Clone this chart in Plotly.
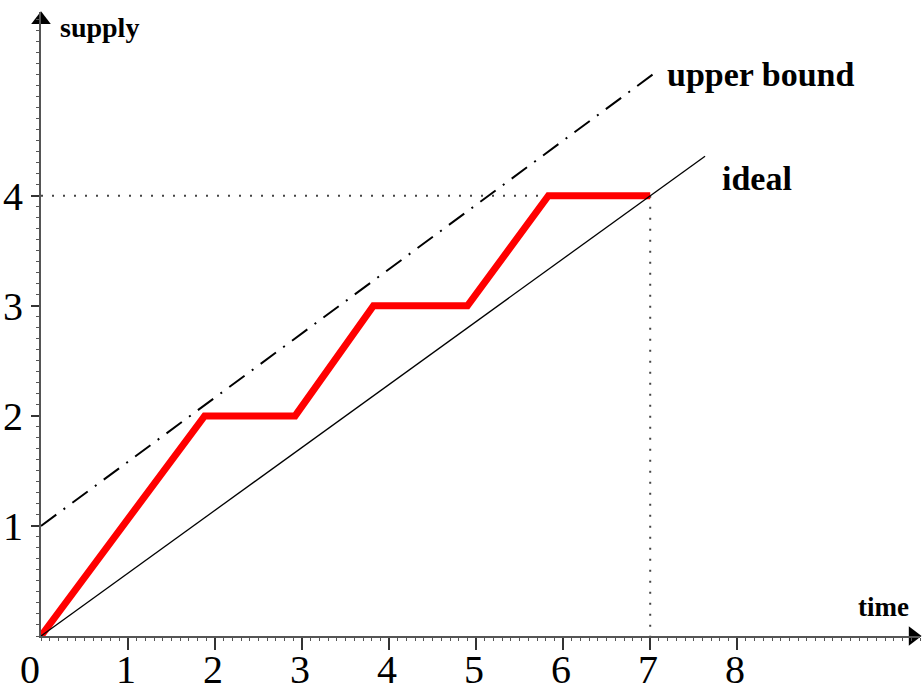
import plotly.graph_objects as go

# Supply schedule (staircase) against time
supply_t = [0, 1.88, 2.92, 3.82, 4.9, 5.83, 7.0]
supply_v = [0, 2, 2, 3, 3, 4, 4]

# Reference lines
ideal_t = [0, 7.63]
ideal_v = [0, 4.36]
upper_t = [0, 7.06]
upper_v = [1, 5.12]

# Guide lines at the final supply level / time
guide_h_t = [0, 7]
guide_h_v = [4, 4]
guide_v_t = [7, 7]
guide_v_v = [4, 0]

x_ticks = [1, 2, 3, 4, 5, 6, 7, 8]
x_labels = ["0", "1", "2", "3", "4", "5", "6", "7", "8"]
y_ticks = [1, 2, 3, 4]

X_MAX = 10.1
Y_MAX = 5.67

serif = "Liberation Serif"

fig = go.Figure()

dot_style = dict(color="#444", width=2, dash="2px,9px")
fig.add_trace(go.Scatter(x=guide_h_t, y=guide_h_v, mode="lines", line=dot_style,
                         hoverinfo="skip", cliponaxis=False))
fig.add_trace(go.Scatter(x=guide_v_t, y=guide_v_v, mode="lines", line=dot_style,
                         hoverinfo="skip", cliponaxis=False))

fig.add_trace(go.Scatter(x=upper_t, y=upper_v, mode="lines",
                         line=dict(color="black", width=2, dash="19px,9px,2px,9px")))
fig.add_trace(go.Scatter(x=supply_t, y=supply_v, mode="lines",
                         line=dict(color="#ff0000", width=7)))
fig.add_trace(go.Scatter(x=ideal_t, y=ideal_v, mode="lines",
                         line=dict(color="black", width=1.3)))

# Arrow heads on the axes
fig.add_trace(go.Scatter(x=[0], y=[5.6], mode="markers", cliponaxis=False,
                         marker=dict(symbol="triangle-up", size=17, color="black")))
fig.add_trace(go.Scatter(x=[10.02], y=[0], mode="markers", cliponaxis=False,
                         marker=dict(symbol="triangle-right", size=17, color="black")))

label_font = dict(family=serif, color="black")
annotations = [
    dict(x=0.19, y=5.53, text="<b>supply</b>", font=dict(size=28, **label_font),
         xanchor="left"),
    dict(x=7.17, y=5.1, text="<b>upper bound</b>", font=dict(size=34, **label_font),
         xanchor="left"),
    dict(x=7.8, y=4.16, text="<b>ideal</b>", font=dict(size=34, **label_font),
         xanchor="left"),
    dict(x=10.0, y=0.26, text="<b>time</b>", font=dict(size=27, **label_font),
         xanchor="right"),
]
for a in annotations:
    a.update(xref="x", yref="y", yanchor="middle", showarrow=False)

# Time-axis labels; the origin label sits just left of the vertical axis
for i, lab in enumerate(x_labels):
    annotations.append(dict(x=i, y=0, xref="x", yref="y", text=lab, showarrow=False,
                            xanchor="center", yanchor="top",
                            xshift=-11 if i == 0 else -2, yshift=-9,
                            font=dict(size=40, **label_font)))

fig.update_layout(
    width=924, height=695,
    margin=dict(l=41, r=4, t=12, b=59),
    paper_bgcolor="white", plot_bgcolor="white",
    showlegend=False,
    annotations=annotations,
    xaxis=dict(range=[0, X_MAX], showgrid=False, zeroline=False, automargin=False,
               showline=True, linecolor="#555", linewidth=2,
               tickvals=x_ticks, ticks="outside", ticklen=12, tickwidth=1.5,
               tickcolor="#333", showticklabels=False,
               minor=dict(dtick=0.1, ticks="outside", ticklen=3, tickcolor="#555",
                          tickwidth=1)),
    yaxis=dict(range=[0, Y_MAX], showgrid=False, zeroline=False, automargin=False,
               showline=True, linecolor="#555", linewidth=2,
               tickvals=y_ticks, ticks="outside", ticklen=8, tickwidth=1.5,
               tickcolor="#333",
               minor=dict(dtick=0.1, ticks="outside", ticklen=3, tickcolor="#555",
                          tickwidth=1),
               tickfont=dict(family=serif, size=40, color="black")),
)

fig.write_html("out.html")
